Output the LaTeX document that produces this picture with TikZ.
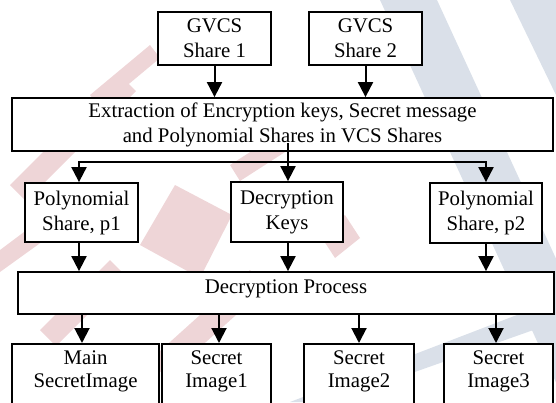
\documentclass[tikz,border=0pt]{standalone}
\usepackage{fontspec}
\setmainfont{Liberation Serif}
\usetikzlibrary{arrows.meta,calc}

\definecolor{wmpink}{RGB}{238,213,215}
\definecolor{wmblue}{RGB}{218,224,233}

\tikzset{
  box/.style={draw, line width=1.8pt, fill=white, rectangle, align=center,
    inner sep=0pt, font=\fontsize{20.8}{25}\selectfont},
  outlabel/.style={anchor=north, yshift=-4pt, align=center,
    font=\fontsize{20.8}{23.5}\selectfont},
  flow/.style={line width=2pt, -{Triangle[width=15pt,length=15pt]}},
  link/.style={line width=2pt}
}

\begin{document}
\begin{tikzpicture}[x=1pt,y=-1pt]
  \useasboundingbox (0,0) rectangle (556,402);
  \clip (0,0) rectangle (556,402);

  % faint watermark in the background
  \fill[wmblue] (380,0) -- (437,0) -- (622,402) -- (565,402) -- cycle;
  \fill[wmblue] (510,0) -- (556,0) -- (556,95) -- cycle;
  \fill[wmblue] (290,402) -- (556,300) -- (556,322) -- (330,402) -- cycle;
  \fill[wmpink] (175,185) -- (232,215) -- (200,278) -- (140,245) -- cycle;
  \fill[wmpink] (10,185) -- (120,75) -- (136,91) -- (26,201) -- cycle;
  \fill[wmpink] (90,95) -- (150,45) -- (160,58) -- (100,108) -- cycle;
  \fill[wmpink] (40,330) -- (110,260) -- (126,276) -- (56,346) -- cycle;
  \fill[wmpink] (150,360) -- (250,270) -- (266,288) -- (166,378) -- cycle;
  \fill[wmpink] (230,165) -- (300,120) -- (310,136) -- (240,181) -- cycle;
  \fill[wmpink] (320,235) -- (345,215) -- (360,238) -- (335,258) -- cycle;
  \fill[wmpink] (0,250) -- (40,220) -- (50,236) -- (0,272) -- cycle;

  % sources
  \node[box, minimum width=113pt, minimum height=53pt] (s1) at (214.5,38.5) {GVCS\\Share 1};
  \node[box, minimum width=113pt, minimum height=53pt] (s2) at (365.5,38.5) {GVCS\\Share 2};

  % extraction stage
  \node[box, minimum width=541pt, minimum height=53pt] (ext) at (282.5,124.5)
    {Extraction of Encryption keys, Secret message\\and Polynomial Shares in VCS Shares};

  % extracted parts
  \node[box, minimum width=113pt, minimum height=59pt] (p1) at (81.5,212.5) {Polynomial\\Share, p1};
  \node[box, minimum width=112pt, minimum height=60pt] (dk) at (287,212) {Decryption\\Keys};
  \node[box, minimum width=112pt, minimum height=60pt] (p2) at (486,213) {Polynomial\\Share, p2};

  % decryption stage
  \node[box, minimum width=536pt, minimum height=42pt, text height=15pt, text depth=15pt]
    (dp) at (286,293) {Decryption Process};

  % outputs (running past the lower edge)
  \node[box, minimum width=147pt, minimum height=90pt, anchor=north,
    label={[outlabel]north:Main\\SecretImage}] (o0) at (85.5,343) {};
  \node[box, minimum width=109pt, minimum height=90pt, anchor=north,
    label={[outlabel]north:Secret\\Image1}] (o1) at (216.5,343) {};
  \node[box, minimum width=110pt, minimum height=90pt, anchor=north,
    label={[outlabel]north:Secret\\Image2}] (o2) at (359,343) {};
  \node[box, minimum width=109pt, minimum height=90pt, anchor=north,
    label={[outlabel]north:Secret\\Image3}] (o3) at (498.5,343) {};

  % shares into extraction
  \draw[flow] (s1.south) -- (s1.south |- ext.north);
  \draw[flow] (s2.south) -- (s2.south |- ext.north);

  % split of the extracted data
  \coordinate (tap) at (288,143);
  \coordinate (bus) at (288,162);
  \draw[link] (tap) -- (bus);
  \draw[flow] (bus) -- (bus |- dk.north);
  \draw[flow] (bus) -| ([xshift=-2.5pt]p1.north);
  \draw[flow] (bus) -| (p2.north);

  % parts into decryption
  \draw[flow] ([xshift=-2.5pt]p1.south) -- ([xshift=-2.5pt]p1.south |- dp.north);
  \draw[flow] ([xshift=1pt]dk.south) -- ([xshift=1pt]dk.south |- dp.north);
  \draw[flow] (p2.south) -- (p2.south |- dp.north);

  % decryption results
  \draw[flow] ([xshift=-3.5pt]o0.north |- dp.south) -- ([xshift=-3.5pt]o0.north);
  \draw[flow] ([xshift=2.5pt]o1.north |- dp.south) -- ([xshift=2.5pt]o1.north);
  \draw[flow] (o2.north |- dp.south) -- (o2.north);
  \draw[flow] ([xshift=-2.5pt]o3.north |- dp.south) -- ([xshift=-2.5pt]o3.north);
\end{tikzpicture}
\end{document}
